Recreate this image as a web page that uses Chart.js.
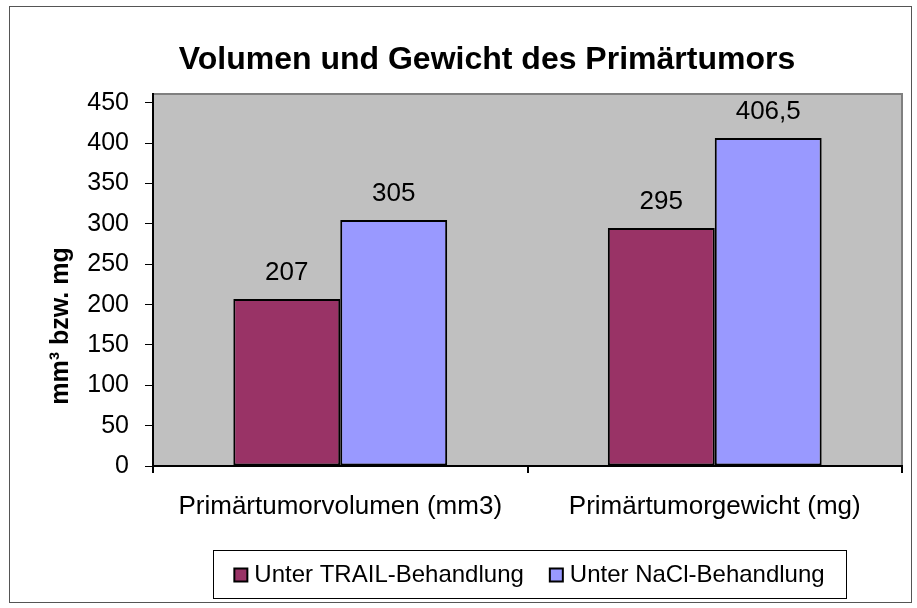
<!DOCTYPE html>
<html>
<head>
<meta charset="utf-8">
<script src="https://cdn.jsdelivr.net/npm/chart.js@4.4.1/dist/chart.umd.min.js"></script>
<style>
  html, body { margin: 0; padding: 0; background: #fff; }
  #wrap { width: 917px; height: 608px; }
</style>
</head>
<body>
<div id="wrap"><canvas id="grafica" width="917" height="608"></canvas></div>
<script>
// datos
var categorias = ['Primärtumorvolumen (mm3)', 'Primärtumorgewicht (mg)'];
var serieTrail = [207, 295];
var serieNacl = [305, 406.5];
var nombresSeries = ['Unter TRAIL-Behandlung', 'Unter NaCl-Behandlung'];
var coloresSeries = ['#993366', '#9999FF'];
var marcasY = [0, 50, 100, 150, 200, 250, 300, 350, 400, 450];
var tituloGrafica = 'Volumen und Gewicht des Primärtumors';
var tituloEjeY = 'mm³ bzw. mg';

var fuente = '"Liberation Sans", Arial, sans-serif';

function formatoDe(v) {
    return String(v).replace('.', ',');
}

// fondo gris, marco exterior, titulo, etiquetas y leyenda
var dibujoExtra = {
    id: 'dibujoExtra',
    beforeDraw: function (chart) {
        var ctx = chart.ctx;
        var a = chart.chartArea;
        ctx.save();
        ctx.fillStyle = '#fff';
        ctx.fillRect(0, 0, chart.width, chart.height);
        ctx.strokeStyle = '#555';
        ctx.lineWidth = 1;
        ctx.strokeRect(9.5, 6.5, 902, 596);
        ctx.fillStyle = '#C0C0C0';
        ctx.fillRect(a.left, a.top, a.right - a.left, a.bottom - a.top);
        ctx.strokeStyle = '#808080';
        ctx.lineWidth = 2;
        ctx.beginPath();
        ctx.moveTo(a.left, a.top);
        ctx.lineTo(a.right, a.top);
        ctx.lineTo(a.right, a.bottom);
        ctx.stroke();
        ctx.restore();
    },
    afterDatasetsDraw: function (chart) {
        var ctx = chart.ctx;
        ctx.save();
        ctx.fillStyle = '#000';
        ctx.font = '26px ' + fuente;
        ctx.textAlign = 'center';
        ctx.textBaseline = 'middle';
        chart.data.datasets.forEach(function (ds, i) {
            chart.getDatasetMeta(i).data.forEach(function (bar, j) {
                ctx.fillText(formatoDe(ds.data[j]), bar.x, bar.y - 26);
            });
        });
        ctx.restore();
    },
    afterDraw: function (chart) {
        var ctx = chart.ctx;
        ctx.save();
        ctx.fillStyle = '#000';

        // titulo
        ctx.font = 'bold 32px ' + fuente;
        ctx.textAlign = 'center';
        ctx.textBaseline = 'alphabetic';
        ctx.fillText(tituloGrafica, 487, 69);

        // titulo del eje Y
        ctx.save();
        ctx.translate(61, 326);
        ctx.rotate(-Math.PI / 2);
        ctx.font = 'bold 25px ' + fuente;
        ctx.textBaseline = 'middle';
        ctx.fillText(tituloEjeY, 0, 0);
        ctx.restore();

        // leyenda con recuadro
        var cajaX = 213, cajaY = 550, cajaW = 633, cajaH = 48;
        ctx.strokeStyle = '#000';
        ctx.lineWidth = 1;
        ctx.strokeRect(cajaX + 0.5, cajaY + 0.5, cajaW, cajaH);
        ctx.font = '24px ' + fuente;
        ctx.textAlign = 'left';
        ctx.textBaseline = 'middle';
        var cuadro = 13, hueco = 7, sep = 26;
        var total = 0;
        nombresSeries.forEach(function (n, i) {
            total += cuadro + hueco + ctx.measureText(n).width;
            if (i > 0) total += sep;
        });
        var x = cajaX + (cajaW - total) / 2;
        var yc = cajaY + cajaH / 2 + 1;
        chart.data.datasets.forEach(function (ds, i) {
            ctx.fillStyle = ds.backgroundColor;
            ctx.fillRect(x, yc - cuadro / 2, cuadro, cuadro);
            ctx.lineWidth = 2;
            ctx.strokeRect(x, yc - cuadro / 2, cuadro, cuadro);
            ctx.fillStyle = '#000';
            ctx.fillText(ds.label, x + cuadro + hueco, yc);
            x += cuadro + hueco + ctx.measureText(ds.label).width + sep;
        });
        ctx.restore();
    }
};

var ctx = document.getElementById('grafica').getContext('2d');
var barras = new Chart(ctx, {
    type: 'bar',
    data: {
        labels: categorias,
        datasets: [{
            label: nombresSeries[0],
            data: serieTrail,
            backgroundColor: coloresSeries[0],
            borderColor: '#000',
            borderWidth: 2,
            borderSkipped: false
        }, {
            label: nombresSeries[1],
            data: serieNacl,
            backgroundColor: coloresSeries[1],
            borderColor: '#000',
            borderWidth: 2,
            borderSkipped: false
        }]
    },
    options: {
        responsive: false,
        animation: false,
        categoryPercentage: 0.571,
        barPercentage: 1.0,
        layout: { padding: { top: 94, left: 0, right: 15, bottom: 0 } },
        plugins: {
            legend: { display: false },
            title: { display: false },
            tooltip: { enabled: false }
        },
        scales: {
            x: {
                grid: {
                    offset: true,
                    drawOnChartArea: false,
                    tickLength: 7,
                    color: '#000',
                    lineWidth: 2
                },
                border: { color: '#000', width: 2 },
                ticks: {
                    color: '#000',
                    padding: 18,
                    font: { family: fuente, size: 26 }
                },
                afterFit: function (scale) { scale.height = 608 - 466; }
            },
            y: {
                min: 0,
                max: 461,
                grid: {
                    drawOnChartArea: false,
                    tickLength: 8,
                    color: '#000',
                    lineWidth: 1
                },
                border: { color: '#000', width: 2 },
                ticks: {
                    color: '#000',
                    padding: 16,
                    font: { family: fuente, size: 25 }
                },
                afterBuildTicks: function (scale) {
                    scale.ticks = marcasY.map(function (v) { return { value: v }; });
                },
                afterFit: function (scale) { scale.width = 153; }
            }
        }
    },
    plugins: [dibujoExtra]
});
</script>
</body>
</html>
